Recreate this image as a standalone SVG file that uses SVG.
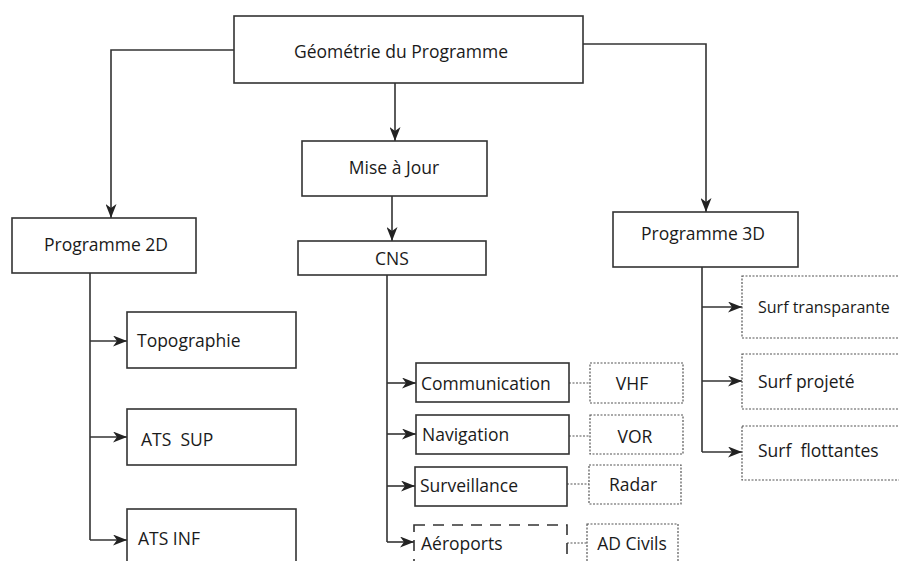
<svg xmlns="http://www.w3.org/2000/svg" width="899" height="561" viewBox="0 0 899 561">
<defs>
<marker id="arr" viewBox="0 0 14 11" markerWidth="14" markerHeight="11" refX="14" refY="5.5" orient="auto" markerUnits="userSpaceOnUse">
<path d="M0,0 L14,5.5 L0,11 L4,5.5 Z" fill="#222"/>
</marker>
<style>
.box{fill:#fff;stroke:#333;stroke-width:1.6}
.dot{fill:#fff;stroke:#555;stroke-width:1.2;stroke-dasharray:2,1.5}
.dash{fill:#fff;stroke:#333;stroke-width:1.6;stroke-dasharray:11,8}
.ln{fill:none;stroke:#333;stroke-width:1.6}
.dl{fill:none;stroke:#555;stroke-width:1.2;stroke-dasharray:2,1.5}
text{font-family:"Open Sans","Noto Sans",sans-serif;font-size:17.5px;fill:#1a1a1a}
.c{text-anchor:middle}
</style>
</defs>
<rect width="899" height="561" fill="#fff"/>
<g id="connectors">
<path class="ln" d="M234,50 H111 V218" marker-end="url(#arr)"/>
<path class="ln" d="M583,44 H706 V212" marker-end="url(#arr)"/>
<path class="ln" d="M395,83 V141" marker-end="url(#arr)"/>
<path class="ln" d="M392,196 V241" marker-end="url(#arr)"/>
<path class="ln" d="M90,273 V540"/>
<path class="ln" d="M90,341 H127" marker-end="url(#arr)"/>
<path class="ln" d="M90,437 H127" marker-end="url(#arr)"/>
<path class="ln" d="M90,540 H127" marker-end="url(#arr)"/>
<path class="ln" d="M387,275 V542"/>
<path class="ln" d="M387,383 H416" marker-end="url(#arr)"/>
<path class="ln" d="M387,434 H416" marker-end="url(#arr)"/>
<path class="ln" d="M387,486 H415" marker-end="url(#arr)"/>
<path class="ln" d="M387,542 H414" marker-end="url(#arr)"/>
<path class="dl" d="M569,383 H590"/>
<path class="dl" d="M569,436 H590"/>
<path class="dl" d="M567,484 H589"/>
<path class="dl" d="M567,543 H587"/>
<path class="ln" d="M702,267 V452"/>
<path class="ln" d="M702,307 H742" marker-end="url(#arr)"/>
<path class="ln" d="M702,381 H742" marker-end="url(#arr)"/>
<path class="ln" d="M702,452 H742" marker-end="url(#arr)"/>
</g>
<g id="n-geometrie"><rect class="box" x="234" y="16" width="349" height="67"/><text class="c" x="401" y="58">Géométrie du Programme</text></g>
<g id="n-mise"><rect class="box" x="302" y="141" width="185" height="55"/><text class="c" x="394" y="174">Mise à Jour</text></g>
<g id="n-cns"><rect class="box" x="298" y="241" width="188" height="34"/><text class="c" x="392" y="265">CNS</text></g>
<g id="n-prog2d"><rect class="box" x="12" y="218" width="184" height="55"/><text class="c" x="106" y="251">Programme 2D</text></g>
<g id="n-prog3d"><rect class="box" x="613" y="212" width="185" height="55"/><text class="c" x="703" y="240">Programme 3D</text></g>
<g id="n-topo"><rect class="box" x="127" y="312" width="169" height="56"/><text x="137" y="347">Topographie</text></g>
<g id="n-atssup"><rect class="box" x="127" y="409" width="169" height="56"/><text x="141" y="446" xml:space="preserve">ATS  SUP</text></g>
<g id="n-atsinf"><rect class="box" x="127" y="509" width="169" height="60"/><text x="138" y="545">ATS INF</text></g>
<g id="n-comm"><rect class="box" x="416" y="363" width="153" height="39"/><text x="421" y="390">Communication</text></g>
<g id="n-nav"><rect class="box" x="416" y="415" width="153" height="39"/><text x="422" y="441">Navigation</text></g>
<g id="n-surv"><rect class="box" x="415" y="467" width="152" height="39"/><text x="420" y="492">Surveillance</text></g>
<g id="n-aero"><rect class="dash" x="414" y="525" width="153" height="50"/><text x="421" y="550">Aéroports</text></g>
<g id="n-vhf"><rect class="dot" x="590" y="363" width="93" height="40"/><text class="c" x="632" y="390">VHF</text></g>
<g id="n-vor"><rect class="dot" x="590" y="415" width="93" height="39"/><text class="c" x="635" y="443">VOR</text></g>
<g id="n-radar"><rect class="dot" x="589" y="465" width="92" height="39"/><text class="c" x="633" y="491">Radar</text></g>
<g id="n-adciv"><rect class="dot" x="587" y="524" width="91" height="50"/><text class="c" x="632" y="550">AD Civils</text></g>
<g id="n-surftr"><rect class="dot" x="742" y="276" width="180" height="62"/><text x="758" y="313" style="font-size:16px">Surf transparante</text></g>
<g id="n-surfpr"><rect class="dot" x="742" y="354" width="180" height="55"/><text x="758" y="388">Surf projeté</text></g>
<g id="n-surffl"><rect class="dot" x="742" y="426" width="180" height="54"/><text x="758" y="457" xml:space="preserve">Surf  flottantes</text></g>
</svg>
